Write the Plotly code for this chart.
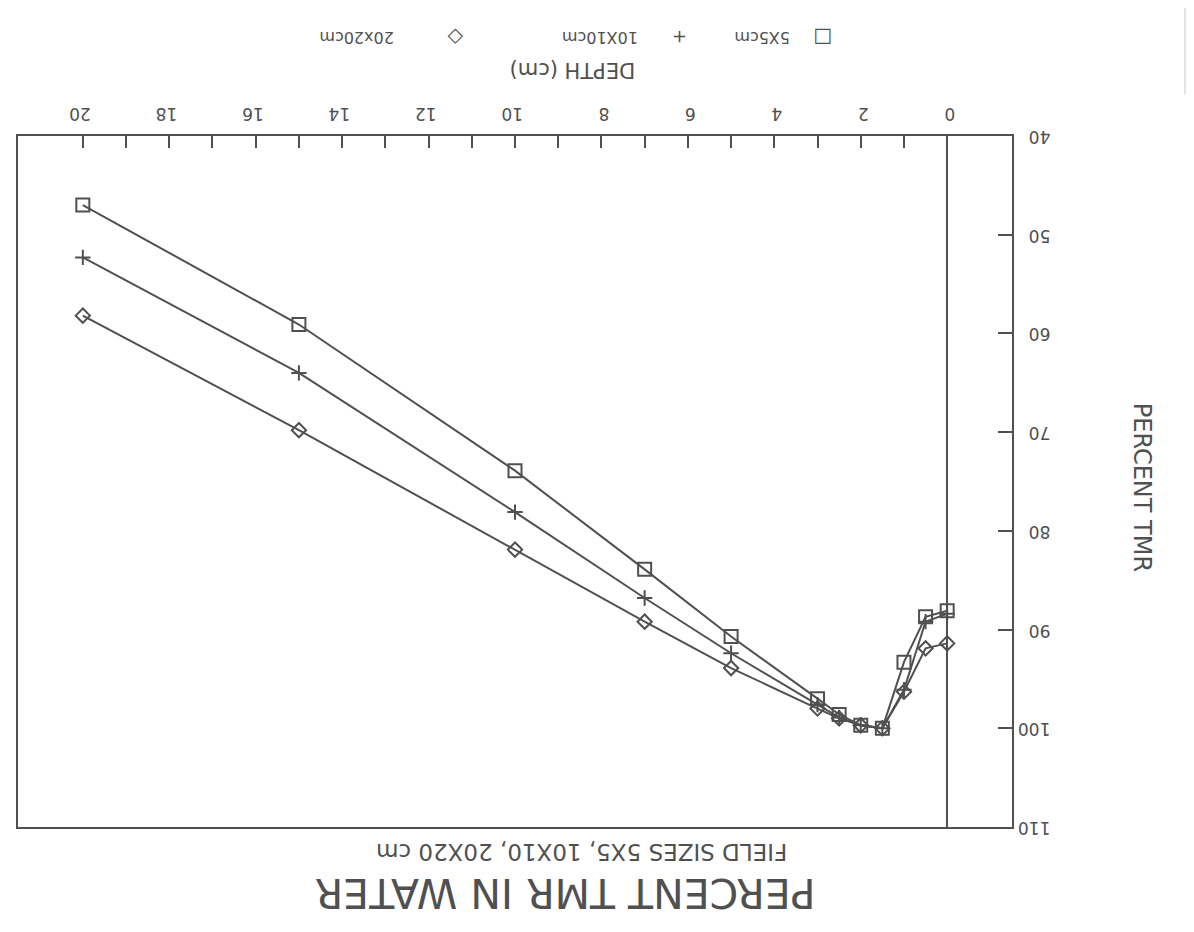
import plotly.graph_objects as go

# Depth (cm)
depth = [0, 0.5, 1.0, 1.5, 2.0, 2.5, 3.0, 5, 7, 10, 15, 20]
# Percent TMR per field size
tmr_5x5 = [88.1, 88.7, 93.3, 100.0, 99.7, 98.6, 97.0, 90.7, 83.9, 73.9, 59.1, 47.0]
tmr_10x10 = [88.4, 89.2, 96.1, 100.0, 99.7, 98.9, 97.6, 92.4, 86.8, 78.1, 64.0, 52.3]
tmr_20x20 = [91.4, 91.9, 96.3, 100.0, 99.7, 99.0, 98.0, 93.9, 89.2, 81.9, 69.8, 58.2]

series_names = ["5X5cm", "10X10cm", "20x20cm"]
x_ticks = [0, 2, 4, 6, 8, 10, 12, 14, 16, 18, 20]
x_minor_ticks = [1, 3, 5, 7, 9, 11, 13, 15, 17, 19]
y_ticks = [40, 50, 60, 70, 80, 90, 100, 110]

INK = "#505050"
FONT = "DejaVu Sans"

fig = go.Figure()
symbols = ["square-open", "cross-thin-open", "diamond-open"]
sizes = [13, 11, 11]
for name, vals, sym, sz in zip(series_names, [tmr_5x5, tmr_10x10, tmr_20x20], symbols, sizes):
    fig.add_trace(go.Scatter(
        x=depth, y=vals, mode="lines+markers", name=name,
        line=dict(color=INK, width=2),
        marker=dict(symbol=sym, size=sz, color=INK, line=dict(color=INK, width=2)),
        showlegend=False,
    ))

# page body has an 8px margin; compensate so the plot box lands where the reference has it
fig.update_layout(
    width=1186, height=924,
    margin=dict(l=10, r=182, t=128, b=105, autoexpand=False),
    paper_bgcolor="white", plot_bgcolor="white",
    font=dict(family=FONT, color=INK),
)
fig.update_xaxes(
    range=[21.5, -1.5], side="top", automargin=False,
    tickmode="array", tickvals=x_ticks, ticktext=[str(v) for v in x_ticks],
    tickangle=180, tickfont=dict(size=17, color=INK, family=FONT),
    ticklabelshift=-8, ticklabelstandoff=2,
    ticks="inside", ticklen=12, tickwidth=2, tickcolor=INK,
    minor=dict(tickmode="array", tickvals=x_minor_ticks, ticks="inside",
               ticklen=12, tickwidth=2, tickcolor=INK),
    showline=True, linecolor=INK, linewidth=2, mirror=True,
    showgrid=False, zeroline=True, zerolinecolor=INK, zerolinewidth=2,
)
fig.update_yaxes(
    range=[110, 40], side="right", automargin=False,
    tickmode="array", tickvals=y_ticks, ticktext=[str(v) for v in y_ticks],
    tickangle=180, tickfont=dict(size=17, color=INK, family=FONT),
    ticklabelstandoff=33, ticklabelshift=-6,
    ticks="inside", ticklen=14, tickwidth=2, tickcolor=INK,
    showline=True, linecolor=INK, linewidth=2, mirror=True,
    showgrid=False, zeroline=False,
)

def ann(text, x, y, size, angle=180):
    fig.add_annotation(text=text, x=x, y=y, xref="paper", yref="paper",
                       showarrow=False, textangle=angle,
                       font=dict(size=size, color=INK, family=FONT),
                       xanchor="center", yanchor="middle")

ann("DEPTH (cm)", 0.558, 1.0955, 21)
ann("\u25a1", 0.810, 1.1418, 20)
ann(series_names[0], 0.7485, 1.1418, 16)
ann("+", 0.666, 1.1418, 18)
ann(series_names[1], 0.5855, 1.1418, 16)
ann("\u25c7", 0.4396, 1.1418, 20)
ann(series_names[2], 0.340, 1.1418, 16)
ann("FIELD SIZES 5X5, 10X10, 20X20 cm", 0.567, -0.0362, 23)
ann("PERCENT TMR IN WATER", 0.550, -0.0955, 41)
ann("PERCENT TMR", 1.131, 0.492, 24, angle=90)

# faint scan mark in the top right corner of the page
fig.add_shape(type="line", xref="paper", yref="paper", x0=1.174, x1=1.174,
              y0=1.06, y1=1.19, line=dict(color="#c8c8c8", width=1))

fig.write_html("out.html")
